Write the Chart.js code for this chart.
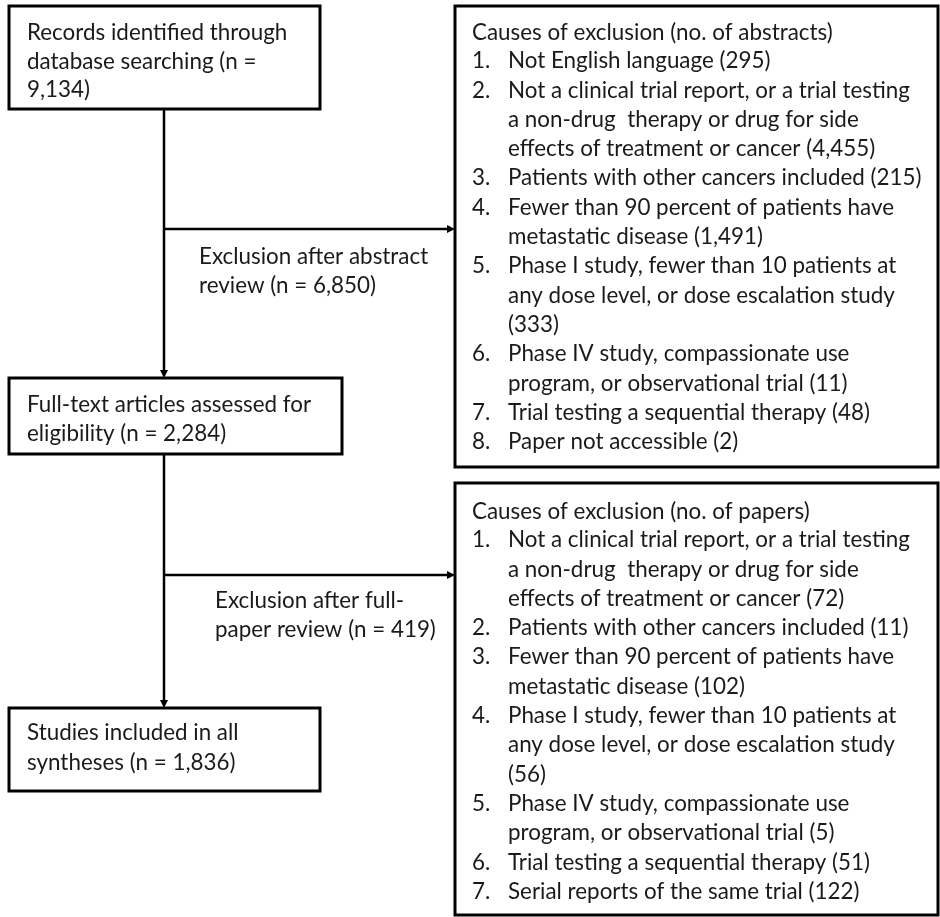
<!DOCTYPE html>
<html><head><meta charset="utf-8">
<script src="https://cdn.jsdelivr.net/npm/chart.js@4"></script>
<style>html,body{margin:0;padding:0;background:#fff}#wrap{width:940px;height:917px}</style>
</head><body><div id="wrap"><canvas id="c"></canvas></div>
<script>
const boxRecords = ["Records identified through", "database searching (n =", "9,134)"];
const boxFullText = ["Full-text articles assessed for", "eligibility (n = 2,284)"];
const boxIncluded = ["Studies included in all", "syntheses (n = 1,836)"];
const labelAbstract = ["Exclusion after abstract", "review (n = 6,850)"];
const labelPaper = ["Exclusion after full-", "paper review (n = 419)"];
const abstractsHeader = "Causes of exclusion (no. of abstracts)";
const abstractsItems = [
  ["Not English language (295)"],
  ["Not a clinical trial report, or a trial testing", "a non-drug  therapy or drug for side", "effects of treatment or cancer (4,455)"],
  ["Patients with other cancers included (215)"],
  ["Fewer than 90 percent of patients have", "metastatic disease (1,491)"],
  ["Phase I study, fewer than 10 patients at", "any dose level, or dose escalation study", "(333)"],
  ["Phase IV study, compassionate use", "program, or observational trial (11)"],
  ["Trial testing a sequential therapy (48)"],
  ["Paper not accessible (2)"]
];
const papersHeader = "Causes of exclusion (no. of papers)";
const papersItems = [
  ["Not a clinical trial report, or a trial testing", "a non-drug  therapy or drug for side", "effects of treatment or cancer (72)"],
  ["Patients with other cancers included (11)"],
  ["Fewer than 90 percent of patients have", "metastatic disease (102)"],
  ["Phase I study, fewer than 10 patients at", "any dose level, or dose escalation study", "(56)"],
  ["Phase IV study, compassionate use", "program, or observational trial (5)"],
  ["Trial testing a sequential therapy (51)"],
  ["Serial reports of the same trial (122)"]
];

const FONT = '22.4px Lato';
const LH = 29.3;
const flow = {
  id: 'flow',
  afterDraw(chart) {
    const ctx = chart.ctx, sx = chart.scales.x, sy = chart.scales.y;
    const X = v => sx.getPixelForValue(v), Y = v => sy.getPixelForValue(v);
    ctx.save();
    ctx.strokeStyle = '#000'; ctx.fillStyle = '#1a1a1a';
    ctx.lineWidth = 3;
    ctx.font = FONT; ctx.textBaseline = 'middle';
    function rect(x0, y0, x1, y1) { ctx.strokeRect(X(x0), Y(y0), X(x1) - X(x0), Y(y1) - Y(y0)); }
    function lines(arr, x, y0, lh) { arr.forEach((t, i) => ctx.fillText(t, X(x), Y(y0 + i * lh))); }
    function line(x0, y0, x1, y1) { ctx.beginPath(); ctx.moveTo(X(x0), Y(y0)); ctx.lineTo(X(x1), Y(y1)); ctx.stroke(); }
    function arrowR(x, y) { ctx.beginPath(); ctx.moveTo(X(x), Y(y)); ctx.lineTo(X(x - 8), Y(y - 4)); ctx.lineTo(X(x - 8), Y(y + 4)); ctx.closePath(); ctx.fillStyle = '#000'; ctx.fill(); ctx.fillStyle = '#1a1a1a'; }
    function arrowD(x, y) { ctx.beginPath(); ctx.moveTo(X(x), Y(y)); ctx.lineTo(X(x - 4), Y(y - 8)); ctx.lineTo(X(x + 4), Y(y - 8)); ctx.closePath(); ctx.fillStyle = '#000'; ctx.fill(); ctx.fillStyle = '#1a1a1a'; }
    // left column
    rect(9, 6, 320, 109); lines(boxRecords, 27, 33, 28.5);
    rect(9, 378, 342, 454); lines(boxFullText, 27, 405, 28.5);
    rect(9, 708, 320, 791); lines(boxIncluded, 27, 733, 30);
    ctx.lineWidth = 2.5;
    line(164, 109, 164, 372); arrowD(164, 378);
    line(164, 229, 450, 229); arrowR(455, 229);
    line(164, 454, 164, 702); arrowD(164, 708);
    line(164, 575, 450, 575); arrowR(455, 575);
    lines(labelAbstract, 199, 257, 28.5);
    lines(labelPaper, 215, 601, 28.5);
    ctx.lineWidth = 3;
    // right boxes
    function list(header, items, y0, yFirst) {
      ctx.fillText(header, X(472), Y(y0));
      let k = 0;
      items.forEach((it, i) => {
        ctx.fillText((i + 1) + '.', X(472), Y(yFirst + k * LH));
        it.forEach(t => { ctx.fillText(t, X(508), Y(yFirst + k * LH)); k++; });
      });
    }
    rect(455, 6, 938, 467); list(abstractsHeader, abstractsItems, 33, 61);
    rect(455, 483, 938, 915); list(papersHeader, papersItems, 512, 540);
    ctx.restore();
  }
};
new Chart(document.getElementById('c'), {
  type: 'scatter',
  data: { datasets: [{ data: [] }] },
  options: {
    responsive: true, maintainAspectRatio: false, animation: false,
    layout: { padding: 0 },
    plugins: { legend: { display: false }, tooltip: { enabled: false } },
    scales: {
      x: { type: 'linear', min: 0, max: 940, display: false },
      y: { type: 'linear', min: 0, max: 917, reverse: true, display: false }
    }
  },
  plugins: [flow]
});
</script></body></html>
